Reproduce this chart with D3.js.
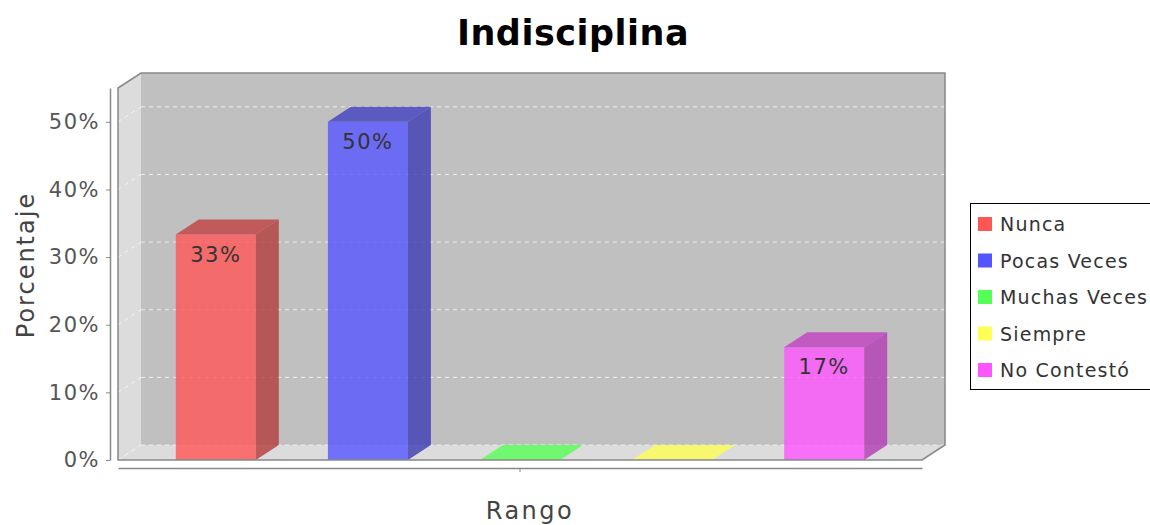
<!DOCTYPE html>
<html>
<head>
<meta charset="utf-8">
<script src="https://cdn.jsdelivr.net/npm/d3@7"></script>
<style>
  body { margin: 0; background: #fff; }
  svg { font-family: "DejaVu Sans", sans-serif; }
</style>
</head>
<body>
<script>
// data
var series = ["Nunca", "Pocas Veces", "Muchas Veces", "Siempre", "No Contestó"];
var values = [33.33, 50, 0, 0, 16.67];
var valueLabels = ["33%", "50%", "", "", "17%"];
var seriesColors = ["#ff5555", "#5555ff", "#55ff55", "#ffff55", "#ff55ff"];
var yTicks = [0, 10, 20, 30, 40, 50];

var W = 1150, H = 525;
// front plane of the 3d plot
var pLeft = 118, pRight = 922, pBottom = 460, pTop = 88;
var DX = 23, DY = 15; // depth offset

var svg = d3.select("body").append("svg")
  .attr("width", W)
  .attr("height", H);

var yScale = d3.scaleLinear()
  .domain([0, 55])
  .range([pBottom, pTop]);

var xScale = d3.scaleBand()
  .domain(series)
  .range([pLeft, pRight])
  .paddingInner(0.474)
  .paddingOuter(0.38);

// title
svg.append("text")
  .attr("x", 573)
  .attr("y", 45)
  .attr("text-anchor", "middle")
  .style("font-size", "35px")
  .style("font-weight", "bold")
  .style("letter-spacing", "0.5px")
  .attr("fill", "#000")
  .text("Indisciplina");

// walls
var plot = svg.append("g").attr("id", "plot");

plot.append("rect")
  .attr("x", pLeft + DX).attr("y", pTop - DY)
  .attr("width", pRight - pLeft).attr("height", pBottom - pTop)
  .attr("fill", "#c0c0c0");

function poly(pts) { return "M" + pts.map(function(p){ return p[0] + "," + p[1]; }).join("L") + "Z"; }

// left wall
plot.append("path")
  .attr("d", poly([[pLeft, pTop], [pLeft + DX, pTop - DY], [pLeft + DX, pBottom - DY], [pLeft, pBottom]]))
  .attr("fill", "#dcdcdc");

// floor
plot.append("path")
  .attr("d", poly([[pLeft, pBottom], [pLeft + DX, pBottom - DY], [pRight + DX, pBottom - DY], [pRight, pBottom]]))
  .attr("fill", "#dcdcdc");

// gridlines
var grid = plot.append("g").attr("id", "grid");
yTicks.forEach(function(t) {
  var y = yScale(t);
  grid.append("line")
    .attr("x1", pLeft + DX).attr("x2", pRight + DX)
    .attr("y1", y - DY).attr("y2", y - DY)
    .attr("stroke", "#eeeeee")
    .attr("stroke-width", 1)
    .attr("stroke-dasharray", "4,4");
  grid.append("line")
    .attr("x1", pLeft).attr("x2", pLeft + DX)
    .attr("y1", y).attr("y2", y - DY)
    .attr("stroke", "#f4f4f4")
    .attr("stroke-width", 1)
    .attr("stroke-dasharray", "4,4");
});

// bars
var bars = plot.append("g").attr("id", "bars");
series.forEach(function(name, i) {
  var x0 = xScale(name), x1 = x0 + xScale.bandwidth();
  var yT = yScale(values[i]);
  var c = d3.color(seriesColors[i]);
  var side = c.darker(1.0);
  var topC = values[i] > 0 ? c.darker(0.8) : c;

  if (values[i] > 0) {
    bars.append("rect")
      .attr("x", x0).attr("y", yT)
      .attr("width", x1 - x0).attr("height", pBottom - yT)
      .attr("fill", c).attr("fill-opacity", 0.8);
    bars.append("path")
      .attr("d", poly([[x1, yT], [x1 + DX, yT - DY], [x1 + DX, pBottom - DY], [x1, pBottom]]))
      .attr("fill", side).attr("fill-opacity", 0.8);
  }
  bars.append("path")
    .attr("d", poly([[x0, yT], [x0 + DX, yT - DY], [x1 + DX, yT - DY], [x1, yT]]))
    .attr("fill", topC).attr("fill-opacity", 0.8);

  if (valueLabels[i]) {
    bars.append("text")
      .attr("x", (x0 + x1) / 2)
      .attr("y", yT + 27)
      .attr("text-anchor", "middle")
      .style("font-size", "21px")
      .style("letter-spacing", "1.5px")
      .attr("fill", "#333")
      .text(valueLabels[i]);
  }
});

// plot outline
plot.append("path")
  .attr("d", poly([[pLeft, pTop], [pLeft + DX, pTop - DY], [pRight + DX, pTop - DY], [pRight + DX, pBottom - DY], [pRight, pBottom], [pLeft, pBottom]]))
  .attr("fill", "none")
  .attr("stroke", "#888")
  .attr("stroke-width", 1.5);

// y axis
var yAxis = svg.append("g")
  .attr("class", "axis")
  .attr("transform", "translate(110,0)")
  .call(d3.axisLeft(yScale).tickValues(yTicks).tickFormat(function(d){ return d + "%"; }).tickSize(4).tickSizeOuter(0).tickPadding(6));
yAxis.select(".domain").attr("stroke", "#888").attr("stroke-width", 1.5);
yAxis.selectAll(".tick line").attr("stroke", "#888");
yAxis.selectAll(".tick text")
  .attr("fill", "#555")
  .style("font-size", "21px")
  .style("letter-spacing", "1.5px")
  .style("font-family", "DejaVu Sans");

// x axis
var catScale = d3.scaleBand().domain(["Indisciplina"]).range([pLeft, pRight]);
var xAxis = svg.append("g")
  .attr("class", "axis")
  .attr("transform", "translate(0,468)")
  .call(d3.axisBottom(catScale).tickFormat("").tickSize(4).tickSizeOuter(0));
xAxis.select(".domain").attr("stroke", "#888").attr("stroke-width", 1.5);
xAxis.selectAll(".tick line").attr("stroke", "#888");

// axis labels
svg.append("text")
  .attr("transform", "translate(34,265) rotate(-90)")
  .attr("text-anchor", "middle")
  .style("font-size", "24px")
  .style("letter-spacing", "2px")
  .attr("fill", "#444")
  .text("Porcentaje");

svg.append("text")
  .attr("x", 530)
  .attr("y", 519)
  .attr("text-anchor", "middle")
  .style("font-size", "24px")
  .style("letter-spacing", "2.5px")
  .attr("fill", "#444")
  .text("Rango");

// legend
var legend = svg.append("g").attr("id", "legend");
legend.append("rect")
  .attr("x", 970.5).attr("y", 203.5)
  .attr("width", 200).attr("height", 186)
  .attr("fill", "#fff")
  .attr("stroke", "#000")
  .attr("stroke-width", 1);
series.forEach(function(name, i) {
  var cy = 224 + i * 36.5;
  legend.append("rect")
    .attr("x", 978).attr("y", cy - 7)
    .attr("width", 14).attr("height", 14)
    .attr("fill", seriesColors[i]);
  legend.append("text")
    .attr("x", 1000)
    .attr("y", cy + 7)
    .style("font-size", "19px")
    .style("letter-spacing", "1.2px")
    .attr("fill", "#333")
    .text(name);
});
</script>
</body>
</html>
